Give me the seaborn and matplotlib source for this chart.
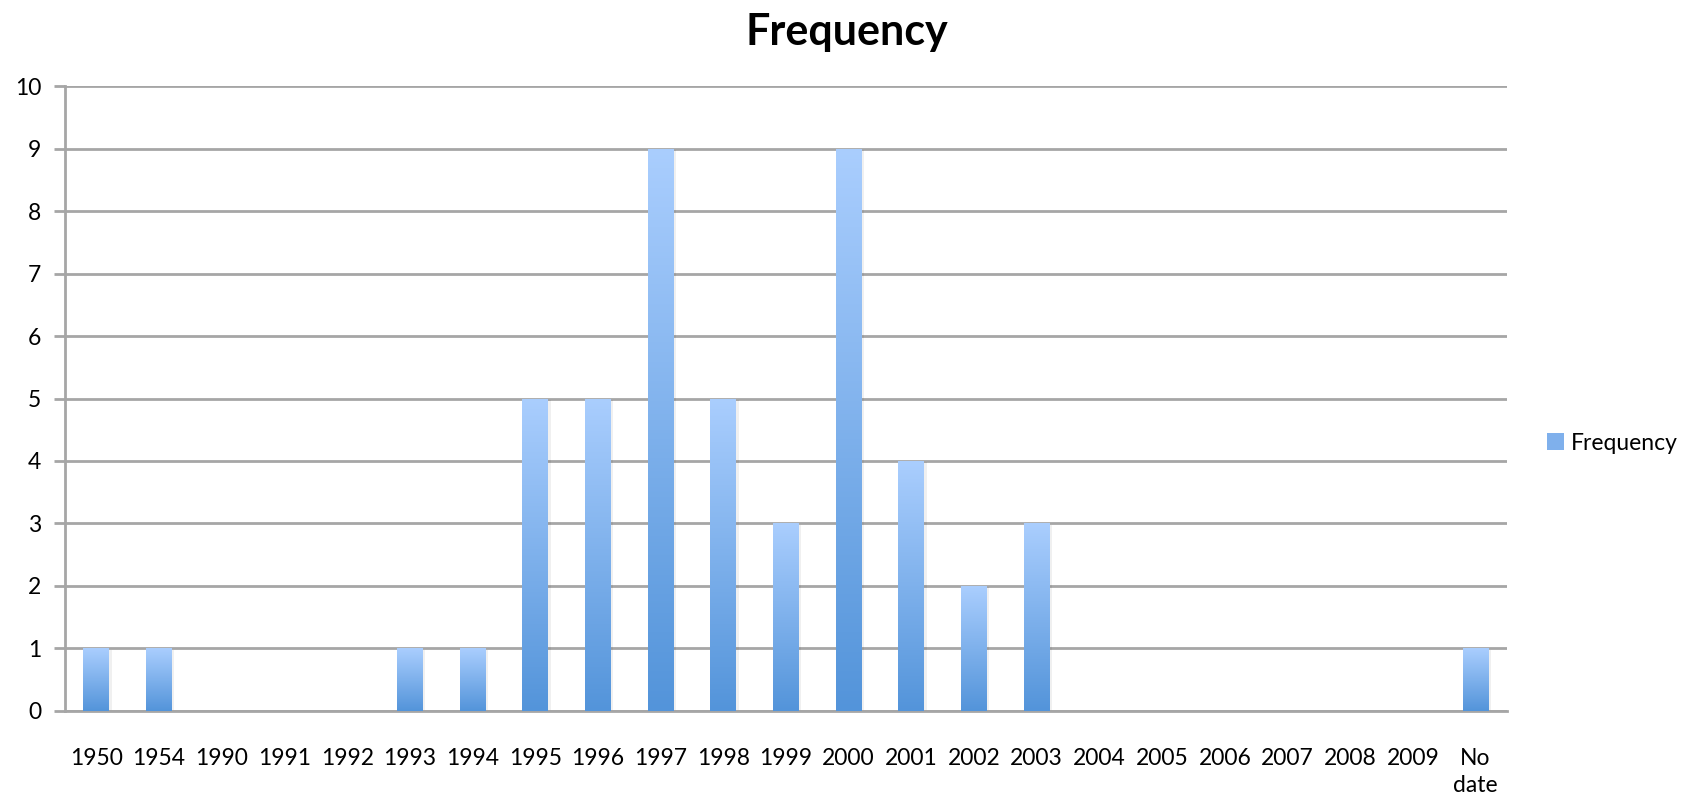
import numpy as np
import pandas as pd
import matplotlib
matplotlib.use("Agg")
import matplotlib.pyplot as plt
import seaborn as sns
from matplotlib.patches import Patch
from matplotlib.colors import LinearSegmentedColormap

categories = ["1950", "1954", "1990", "1991", "1992", "1993", "1994", "1995", "1996",
              "1997", "1998", "1999", "2000", "2001", "2002", "2003", "2004", "2005",
              "2006", "2007", "2008", "2009", "No\ndate"]
frequency = [1, 1, 0, 0, 0, 1, 1, 5, 5, 9, 5, 3, 9, 4, 2, 3, 0, 0, 0, 0, 0, 0, 1]
y_ticks = [0, 1, 2, 3, 4, 5, 6, 7, 8, 9, 10]

sns.set_theme(style="white")
plt.rcParams['font.family'] = ['Lato', 'DejaVu Sans']
plt.rcParams['text.color'] = 'black'

df = pd.DataFrame({"Year": categories, "Frequency": frequency})

fig = plt.figure(figsize=(16.97, 7.97), dpi=100)
ax = fig.add_axes([0.0383, 0.108, 0.8497, 0.784])

sns.barplot(data=df, x="Year", y="Frequency", color="#7FB0EC", width=0.41,
            ax=ax, zorder=3, saturation=1)

top_c = "#AACEFE"
bot_c = "#5394DA"
cmap = LinearSegmentedColormap.from_list("grad", [bot_c, top_c])
grad = np.linspace(0, 1, 256).reshape(-1, 1)
for p in ax.patches:
    x0, y0 = p.get_x(), p.get_y()
    w, h = p.get_width(), p.get_height()
    p.set_facecolor("none")
    p.set_edgecolor("none")
    p.set_linewidth(0)
    if h <= 0:
        continue
    im = ax.imshow(grad, cmap=cmap, origin="lower", aspect="auto",
                   extent=[x0, x0 + w, y0, y0 + h], zorder=3)
    im.set_clip_path(p)
    ax.fill_between([x0 + w, x0 + w + 0.04], 0, h - 0.02, color="#000000",
                    alpha=0.06, zorder=2.5, linewidth=0)

ax.set_xlim(-0.5, len(categories) - 0.5)
ax.set_ylim(0, 10)
ax.set_yticks(y_ticks)
ax.yaxis.grid(True, color="#A6A6A6", linewidth=2, zorder=0)
ax.set_axisbelow(True)
ax.set_xlabel("")
ax.set_ylabel("")

for s in ["top", "right"]:
    ax.spines[s].set_visible(False)
for s in ["left", "bottom"]:
    ax.spines[s].set_color("#A6A6A6")
    ax.spines[s].set_linewidth(2)

ax.set_xticks(range(len(categories)))
ax.set_xticklabels(categories, fontsize=16.5, color="black", linespacing=1.3, va="top")
ax.set_xticks(np.arange(-0.5, len(categories), 1.0), minor=True)
ax.tick_params(axis="x", which="major", length=0, pad=27)
ax.tick_params(axis="x", which="minor", length=8, width=2, color="#A6A6A6", direction="out")
ax.tick_params(axis="y", which="major", length=8, width=2, color="#A6A6A6",
               direction="out", labelsize=16.5, pad=9, labelcolor="black")
ax.tick_params(axis="both", bottom=True, left=True)

fig.suptitle("Frequency", x=0.499, y=0.985, fontsize=31, fontweight="bold", color="black")

handle = Patch(facecolor="#7FB0EC", edgecolor="none")
fig.legend([handle], ["Frequency"], loc="center left", bbox_to_anchor=(0.906, 0.444),
           frameon=False, fontsize=16.5, handlelength=0.75, handleheight=0.8,
           handletextpad=0.3, borderaxespad=0, labelcolor="black")

fig.savefig("out.png", dpi=100)
